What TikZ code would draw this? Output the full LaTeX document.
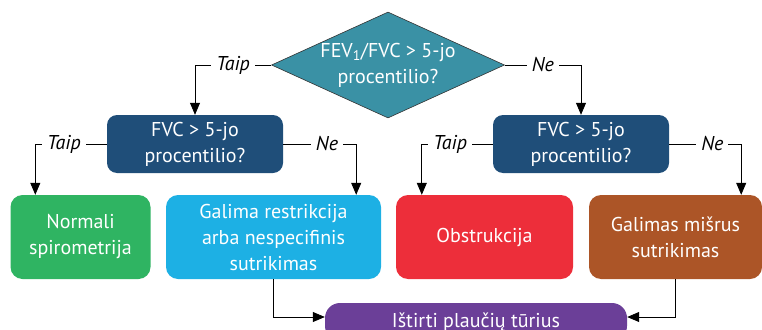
\documentclass[tikz,border=0pt]{standalone}
\usepackage{fontspec}
\setmainfont{PT Sans}
\usetikzlibrary{arrows.meta, positioning, shapes.geometric}

\definecolor{diateal}{RGB}{58,145,165}
\definecolor{qblue}{RGB}{31,78,121}
\definecolor{resgreen}{RGB}{47,180,98}
\definecolor{resblue}{RGB}{29,176,228}
\definecolor{resred}{RGB}{237,46,58}
\definecolor{resbrown}{RGB}{172,85,39}
\definecolor{respurple}{RGB}{107,63,152}

\begin{document}
\begin{tikzpicture}[x=1pt, y=-1pt,
    % Define node styles
    every node/.style={font=\fontsize{20}{26}\selectfont},
    decision/.style={diamond, draw=black!80, line width=0.6pt, fill=diateal,
                     minimum width=233pt, minimum height=106pt,
                     inner sep=0pt},
    question/.style={rectangle, rounded corners=10pt, fill=qblue, text=white,
                     minimum width=176pt, minimum height=58pt, inner sep=0pt,
                     align=center},
    result/.style={rectangle, rounded corners=12pt, text=white,
                   minimum height=84pt, inner sep=0pt, align=center},
    finalbox/.style={rectangle, rounded corners=15pt, fill=respurple,
                     minimum width=302pt, minimum height=38pt, inner sep=0pt},
    lbl/.style={fill=white, font=\fontsize{20}{22}\selectfont\itshape,
                inner xsep=5pt, inner ysep=1pt},
    arr/.style={-{Triangle[length=12pt, width=10pt]}, line width=0.8pt}
]
    \clip (0,0) rectangle (762,329);

    % Create nodes
    \node[decision] (fev) at (388,65) {};
    \node[text=white, align=center, inner sep=0pt] (fevtext) at (fev.center)
        {FEV\textsubscript{1}/FVC > 5-jo\\procentilio?};
    \node[question] (fvcL) at (195,144) {FVC > 5-jo\\procentilio?};
    \node[question] (fvcR) at (581,144) {FVC > 5-jo\\procentilio?};

    \node[result, fill=resgreen, minimum width=140pt] (normal) at (80.5,237) {Normali\\spirometrija};
    \node[result, fill=resblue, minimum width=215pt] (restr) at (273.5,237) {Galima restrikcija\\arba nespecifinis\\sutrikimas};
    \node[result, fill=resred, minimum width=177pt] (obstr) at (484.5,237) {Obstrukcija};
    \node[result, fill=resbrown, minimum width=173pt] (mixed) at (675.5,237) {Galimas mišrus\\sutrikimas};

    \node[finalbox] (lung) at (476,322) {};
    \node[anchor=base, text=white, inner sep=0pt] (lungtext) at (476,327.5) {Ištirti plaučių tūrius};

    % Draw arrows between nodes
    \draw[arr] (fev.west) -| node[lbl, pos=0.25] {Taip} (fvcL.north);
    \draw[arr] (fev.east) -| node[lbl, pos=0.25] {Ne} (fvcR.north);
    \draw[arr] (fvcL.west) -| node[lbl, pos=0.3] {Taip} ([xshift=25pt]normal.north west);
    \draw[arr] (fvcL.east) -| node[lbl, pos=0.3] {Ne} ([xshift=-25pt]restr.north east);
    \draw[arr] (fvcR.west) -| node[lbl, pos=0.3] {Taip} ([xshift=26pt]obstr.north west);
    \draw[arr] (fvcR.east) -| node[lbl, pos=0.3] {Ne} ([xshift=-21pt]mixed.north east);
    \draw[arr] (restr.south) |- ([yshift=5pt]lung.west);
    \draw[arr] (mixed.south) |- ([yshift=5pt]lung.east);
\end{tikzpicture}
\end{document}
